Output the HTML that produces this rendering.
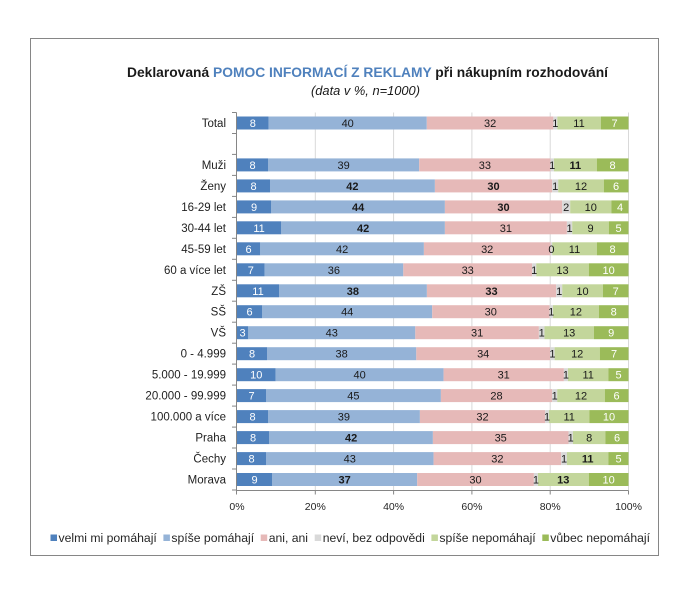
<!DOCTYPE html>
<html>
<head>
<meta charset="utf-8">
<style>
html,body{margin:0;padding:0;background:#fff;}
svg{display:block;}
text{font-family:"Liberation Sans",Arial,sans-serif;}
.a{fill:#4f81bd}.b{fill:#95b3d7}.c{fill:#e6b9b8}.d{fill:#d9d9d9}.e{fill:#c3d69b}.f{fill:#9bbb59}
.lb text{font-size:11px;text-anchor:middle;fill:#1a1a1a}
.lb text.w{fill:#fff}
.lb text.k{font-weight:bold}
.cat text{font-size:11.5px;text-anchor:end;fill:#1f1f1f}
.tk text{font-size:10.5px;text-anchor:middle;fill:#262626}
.lg text{font-size:12.2px;fill:#262626}
</style>
</head>
<body>
<svg width="700" height="592" viewBox="0 0 700 592" xmlns="http://www.w3.org/2000/svg">
<rect x="0" y="0" width="700" height="592" fill="#fff"/>
<rect x="30.5" y="38.5" width="628" height="517" fill="#fff" stroke="#868686" stroke-width="1"/>

<!-- Title -->
<text x="127" y="77" font-size="13.5" font-weight="bold" fill="#1a1a1a" textLength="481" lengthAdjust="spacingAndGlyphs">Deklarovaná <tspan fill="#4f81bd">POMOC INFORMACÍ Z REKLAMY</tspan> při nákupním rozhodování</text>
<text x="311" y="95" font-size="13" font-style="italic" fill="#1a1a1a" textLength="109" lengthAdjust="spacingAndGlyphs">(data v %, n=1000)</text>

<!-- gridlines -->
<g stroke="#d9d9d9" stroke-width="1">
<line x1="315.3" y1="112.5" x2="315.3" y2="490"/>
<line x1="393.6" y1="112.5" x2="393.6" y2="490"/>
<line x1="471.9" y1="112.5" x2="471.9" y2="490"/>
<line x1="550.2" y1="112.5" x2="550.2" y2="490"/>
<line x1="628.5" y1="112.5" x2="628.5" y2="490"/>
</g>

<!-- bars -->
<g>
<g transform="translate(0,116.5)"><rect class="a" x="237" y="0" width="31.6" height="13"/><rect class="b" x="268.6" y="0" width="158.2" height="13"/><rect class="c" x="426.8" y="0" width="126.6" height="13"/><rect class="d" x="553.4" y="0" width="3.9" height="13"/><rect class="e" x="557.3" y="0" width="43.5" height="13"/><rect class="f" x="600.8" y="0" width="27.7" height="13"/></g>
<g transform="translate(0,158.4)"><rect class="a" x="237" y="0" width="31" height="13"/><rect class="b" x="268" y="0" width="151.2" height="13"/><rect class="c" x="419.2" y="0" width="131.4" height="13"/><rect class="d" x="550.6" y="0" width="3.3" height="13"/><rect class="e" x="553.9" y="0" width="42.9" height="13"/><rect class="f" x="596.8" y="0" width="31.7" height="13"/></g>
<g transform="translate(0,179.4)"><rect class="a" x="237" y="0" width="33" height="13"/><rect class="b" x="270" y="0" width="164.9" height="13"/><rect class="c" x="434.9" y="0" width="117.3" height="13"/><rect class="d" x="552.2" y="0" width="6" height="13"/><rect class="e" x="558.2" y="0" width="45.6" height="13"/><rect class="f" x="603.8" y="0" width="24.7" height="13"/></g>
<g transform="translate(0,200.4)"><rect class="a" x="237" y="0" width="34.3" height="13"/><rect class="b" x="271.3" y="0" width="173.6" height="13"/><rect class="c" x="444.9" y="0" width="117.3" height="13"/><rect class="d" x="562.2" y="0" width="8" height="13"/><rect class="e" x="570.2" y="0" width="41.3" height="13"/><rect class="f" x="611.5" y="0" width="17" height="13"/></g>
<g transform="translate(0,221.3)"><rect class="a" x="237" y="0" width="44.3" height="13"/><rect class="b" x="281.3" y="0" width="163.6" height="13"/><rect class="c" x="444.9" y="0" width="122" height="13"/><rect class="d" x="566.9" y="0" width="5.3" height="13"/><rect class="e" x="572.2" y="0" width="36.6" height="13"/><rect class="f" x="608.8" y="0" width="19.7" height="13"/></g>
<g transform="translate(0,242.3)"><rect class="a" x="237" y="0" width="23.3" height="13"/><rect class="b" x="260.3" y="0" width="163.6" height="13"/><rect class="c" x="423.9" y="0" width="126.7" height="13"/><rect class="d" x="550.6" y="0" width="1.6" height="13"/><rect class="e" x="552.2" y="0" width="44.6" height="13"/><rect class="f" x="596.8" y="0" width="31.7" height="13"/></g>
<g transform="translate(0,263.3)"><rect class="a" x="237" y="0" width="27.6" height="13"/><rect class="b" x="264.6" y="0" width="138.7" height="13"/><rect class="c" x="403.3" y="0" width="128.9" height="13"/><rect class="d" x="532.2" y="0" width="4" height="13"/><rect class="e" x="536.2" y="0" width="52.6" height="13"/><rect class="f" x="588.8" y="0" width="39.7" height="13"/></g>
<g transform="translate(0,284.3)"><rect class="a" x="237" y="0" width="42" height="13"/><rect class="b" x="279" y="0" width="147.9" height="13"/><rect class="c" x="426.9" y="0" width="129.3" height="13"/><rect class="d" x="556.2" y="0" width="6" height="13"/><rect class="e" x="562.2" y="0" width="40.7" height="13"/><rect class="f" x="602.9" y="0" width="25.6" height="13"/></g>
<g transform="translate(0,305.2)"><rect class="a" x="237" y="0" width="25.3" height="13"/><rect class="b" x="262.3" y="0" width="169.9" height="13"/><rect class="c" x="432.2" y="0" width="117.3" height="13"/><rect class="d" x="549.5" y="0" width="3.4" height="13"/><rect class="e" x="552.9" y="0" width="46" height="13"/><rect class="f" x="598.9" y="0" width="29.6" height="13"/></g>
<g transform="translate(0,326.2)"><rect class="a" x="237" y="0" width="11.3" height="13"/><rect class="b" x="248.3" y="0" width="167" height="13"/><rect class="c" x="415.3" y="0" width="123.6" height="13"/><rect class="d" x="538.9" y="0" width="5.6" height="13"/><rect class="e" x="544.5" y="0" width="49.4" height="13"/><rect class="f" x="593.9" y="0" width="34.6" height="13"/></g>
<g transform="translate(0,347.2)"><rect class="a" x="237" y="0" width="30" height="13"/><rect class="b" x="267" y="0" width="149.3" height="13"/><rect class="c" x="416.3" y="0" width="133.9" height="13"/><rect class="d" x="550.2" y="0" width="4.4" height="13"/><rect class="e" x="554.6" y="0" width="45.2" height="13"/><rect class="f" x="599.8" y="0" width="28.7" height="13"/></g>
<g transform="translate(0,368.2)"><rect class="a" x="237" y="0" width="38.6" height="13"/><rect class="b" x="275.6" y="0" width="168" height="13"/><rect class="c" x="443.6" y="0" width="120.3" height="13"/><rect class="d" x="563.9" y="0" width="4" height="13"/><rect class="e" x="567.9" y="0" width="40.6" height="13"/><rect class="f" x="608.5" y="0" width="20" height="13"/></g>
<g transform="translate(0,389.1)"><rect class="a" x="237" y="0" width="29" height="13"/><rect class="b" x="266" y="0" width="174.9" height="13"/><rect class="c" x="440.9" y="0" width="111.3" height="13"/><rect class="d" x="552.2" y="0" width="5" height="13"/><rect class="e" x="557.2" y="0" width="47.6" height="13"/><rect class="f" x="604.8" y="0" width="23.7" height="13"/></g>
<g transform="translate(0,410.1)"><rect class="a" x="237" y="0" width="31" height="13"/><rect class="b" x="268" y="0" width="151.9" height="13"/><rect class="c" x="419.9" y="0" width="125.3" height="13"/><rect class="d" x="545.2" y="0" width="3.7" height="13"/><rect class="e" x="548.9" y="0" width="40.6" height="13"/><rect class="f" x="589.5" y="0" width="39" height="13"/></g>
<g transform="translate(0,431.1)"><rect class="a" x="237" y="0" width="32.3" height="13"/><rect class="b" x="269.3" y="0" width="163.6" height="13"/><rect class="c" x="432.9" y="0" width="135.6" height="13"/><rect class="d" x="568.5" y="0" width="4.4" height="13"/><rect class="e" x="572.9" y="0" width="32.6" height="13"/><rect class="f" x="605.5" y="0" width="23" height="13"/></g>
<g transform="translate(0,452.1)"><rect class="a" x="237" y="0" width="29" height="13"/><rect class="b" x="266" y="0" width="167.6" height="13"/><rect class="c" x="433.6" y="0" width="127.6" height="13"/><rect class="d" x="561.2" y="0" width="5.7" height="13"/><rect class="e" x="566.9" y="0" width="41.6" height="13"/><rect class="f" x="608.5" y="0" width="20" height="13"/></g>
<g transform="translate(0,473.0)"><rect class="a" x="237" y="0" width="35" height="13"/><rect class="b" x="272" y="0" width="145.2" height="13"/><rect class="c" x="417.2" y="0" width="116.7" height="13"/><rect class="d" x="533.9" y="0" width="4" height="13"/><rect class="e" x="537.9" y="0" width="50.9" height="13"/><rect class="f" x="588.8" y="0" width="39.7" height="13"/></g>
</g>

<!-- axes -->
<g stroke="#868686" stroke-width="1">
<line x1="236.5" y1="112.5" x2="236.5" y2="490.5"/>
<line x1="236.5" y1="490.5" x2="628.5" y2="490.5"/>
<line x1="236.5" y1="490.5" x2="236.5" y2="494.5"/>
<line x1="315.3" y1="490.5" x2="315.3" y2="494.5"/>
<line x1="393.6" y1="490.5" x2="393.6" y2="494.5"/>
<line x1="471.9" y1="490.5" x2="471.9" y2="494.5"/>
<line x1="550.2" y1="490.5" x2="550.2" y2="494.5"/>
<line x1="628.5" y1="490.5" x2="628.5" y2="494.5"/>
<line x1="232" y1="112.5" x2="236.5" y2="112.5"/>
<line x1="232" y1="133.5" x2="236.5" y2="133.5"/>
<line x1="232" y1="154.4" x2="236.5" y2="154.4"/>
<line x1="232" y1="175.4" x2="236.5" y2="175.4"/>
<line x1="232" y1="196.4" x2="236.5" y2="196.4"/>
<line x1="232" y1="217.4" x2="236.5" y2="217.4"/>
<line x1="232" y1="238.3" x2="236.5" y2="238.3"/>
<line x1="232" y1="259.3" x2="236.5" y2="259.3"/>
<line x1="232" y1="280.3" x2="236.5" y2="280.3"/>
<line x1="232" y1="301.2" x2="236.5" y2="301.2"/>
<line x1="232" y1="322.2" x2="236.5" y2="322.2"/>
<line x1="232" y1="343.2" x2="236.5" y2="343.2"/>
<line x1="232" y1="364.1" x2="236.5" y2="364.1"/>
<line x1="232" y1="385.1" x2="236.5" y2="385.1"/>
<line x1="232" y1="406.1" x2="236.5" y2="406.1"/>
<line x1="232" y1="427.1" x2="236.5" y2="427.1"/>
<line x1="232" y1="448.0" x2="236.5" y2="448.0"/>
<line x1="232" y1="469.0" x2="236.5" y2="469.0"/>
<line x1="232" y1="490.0" x2="236.5" y2="490.0"/>
</g>

<!-- data labels -->
<g class="lb">
<g transform="translate(0,127)"><text class="w" x="252.8">8</text><text x="347.7">40</text><text x="490.1">32</text><text x="555.3">1</text><text x="579">11</text><text class="w" x="614.6">7</text></g>
<g transform="translate(0,168.9)"><text class="w" x="252.5">8</text><text x="343.6">39</text><text x="484.9">33</text><text x="552.2">1</text><text class="k" x="575.3">11</text><text class="w" x="612.6">8</text></g>
<g transform="translate(0,189.9)"><text class="w" x="253.5">8</text><text class="k" x="352.4">42</text><text class="k" x="493.5">30</text><text x="555.2">1</text><text x="581">12</text><text class="w" x="616.1">6</text></g>
<g transform="translate(0,210.9)"><text class="w" x="254.1">9</text><text class="k" x="358.1">44</text><text class="k" x="503.5">30</text><text x="566.2">2</text><text x="590.8">10</text><text class="w" x="620">4</text></g>
<g transform="translate(0,231.8)"><text class="w" x="259.1">11</text><text class="k" x="363.1">42</text><text x="505.9">31</text><text x="569.5">1</text><text x="590.5">9</text><text class="w" x="618.6">5</text></g>
<g transform="translate(0,252.8)"><text class="w" x="248.6">6</text><text x="342.1">42</text><text x="487.2">32</text><text x="551.4">0</text><text x="574.5">11</text><text class="w" x="612.6">8</text></g>
<g transform="translate(0,273.8)"><text class="w" x="250.8">7</text><text x="333.9">36</text><text x="467.7">33</text><text x="534.2">1</text><text x="562.5">13</text><text class="w" x="608.6">10</text></g>
<g transform="translate(0,294.8)"><text class="w" x="258">11</text><text class="k" x="352.9">38</text><text class="k" x="491.5">33</text><text x="559.2">1</text><text x="582.5">10</text><text class="w" x="615.7">7</text></g>
<g transform="translate(0,315.7)"><text class="w" x="249.6">6</text><text x="347.2">44</text><text x="490.8">30</text><text x="551.2">1</text><text x="575.9">12</text><text class="w" x="613.7">8</text></g>
<g transform="translate(0,336.7)"><text class="w" x="242.6">3</text><text x="331.8">43</text><text x="477.1">31</text><text x="541.7">1</text><text x="569.2">13</text><text class="w" x="611.2">9</text></g>
<g transform="translate(0,357.7)"><text class="w" x="252">8</text><text x="341.6">38</text><text x="483.2">34</text><text x="552.4">1</text><text x="577.2">12</text><text class="w" x="614.1">7</text></g>
<g transform="translate(0,378.7)"><text class="w" x="256.3">10</text><text x="359.6">40</text><text x="503.7">31</text><text x="565.9">1</text><text x="588.2">11</text><text class="w" x="618.5">5</text></g>
<g transform="translate(0,399.6)"><text class="w" x="251.5">7</text><text x="353.4">45</text><text x="496.5">28</text><text x="554.7">1</text><text x="581">12</text><text class="w" x="616.6">6</text></g>
<g transform="translate(0,420.6)"><text class="w" x="252.5">8</text><text x="343.9">39</text><text x="482.5">32</text><text x="547">1</text><text x="569.2">11</text><text class="w" x="609">10</text></g>
<g transform="translate(0,441.6)"><text class="w" x="253.1">8</text><text class="k" x="351.1">42</text><text x="500.7">35</text><text x="570.7">1</text><text x="589.2">8</text><text class="w" x="617">6</text></g>
<g transform="translate(0,462.6)"><text class="w" x="251.5">8</text><text x="349.8">43</text><text x="497.4">32</text><text x="564">1</text><text class="k" x="587.7">11</text><text class="w" x="618.5">5</text></g>
<g transform="translate(0,483.5)"><text class="w" x="254.5">9</text><text class="k" x="344.6">37</text><text x="475.5">30</text><text x="535.9">1</text><text class="k" x="563.3">13</text><text class="w" x="608.6">10</text></g>
</g>

<!-- category labels -->
<g class="cat">
<text x="226" y="127">Total</text>
<text x="226" y="168.9">Muži</text>
<text x="226" y="189.9">Ženy</text>
<text x="226" y="210.9">16-29 let</text>
<text x="226" y="231.8">30-44 let</text>
<text x="226" y="252.8">45-59 let</text>
<text x="226" y="273.8">60 a více let</text>
<text x="226" y="294.8">ZŠ</text>
<text x="226" y="315.7">SŠ</text>
<text x="226" y="336.7">VŠ</text>
<text x="226" y="357.7">0 - 4.999</text>
<text x="226" y="378.7">5.000 - 19.999</text>
<text x="226" y="399.6">20.000 - 99.999</text>
<text x="226" y="420.6">100.000 a více</text>
<text x="226" y="441.6">Praha</text>
<text x="226" y="462.6">Čechy</text>
<text x="226" y="483.5">Morava</text>
</g>

<!-- x tick labels -->
<g class="tk">
<text x="237" y="510">0%</text>
<text x="315.3" y="510">20%</text>
<text x="393.6" y="510">40%</text>
<text x="471.9" y="510">60%</text>
<text x="550.2" y="510">80%</text>
<text x="628.5" y="510">100%</text>
</g>

<!-- legend -->
<g class="lg">
<rect class="a" x="50.5" y="534.5" width="6.5" height="6.5"/>
<text x="58.5" y="542" textLength="98.3" lengthAdjust="spacingAndGlyphs">velmi mi pomáhají</text>
<rect class="b" x="163.4" y="534.5" width="6.5" height="6.5"/>
<text x="171.4" y="542" textLength="82.7" lengthAdjust="spacingAndGlyphs">spíše pomáhají</text>
<rect class="c" x="260.7" y="534.5" width="6.5" height="6.5"/>
<text x="268.7" y="542">ani, ani</text>
<rect class="d" x="314.7" y="534.5" width="6.5" height="6.5"/>
<text x="322.7" y="542" textLength="102.1" lengthAdjust="spacingAndGlyphs">neví, bez odpovědi</text>
<rect class="e" x="431.4" y="534.5" width="6.5" height="6.5"/>
<text x="439.4" y="542" textLength="96.3" lengthAdjust="spacingAndGlyphs">spíše nepomáhají</text>
<rect class="f" x="542.3" y="534.5" width="6.5" height="6.5"/>
<text x="550.3" y="542" textLength="99.7" lengthAdjust="spacingAndGlyphs">vůbec nepomáhají</text>
</g>
</svg>
</body>
</html>
